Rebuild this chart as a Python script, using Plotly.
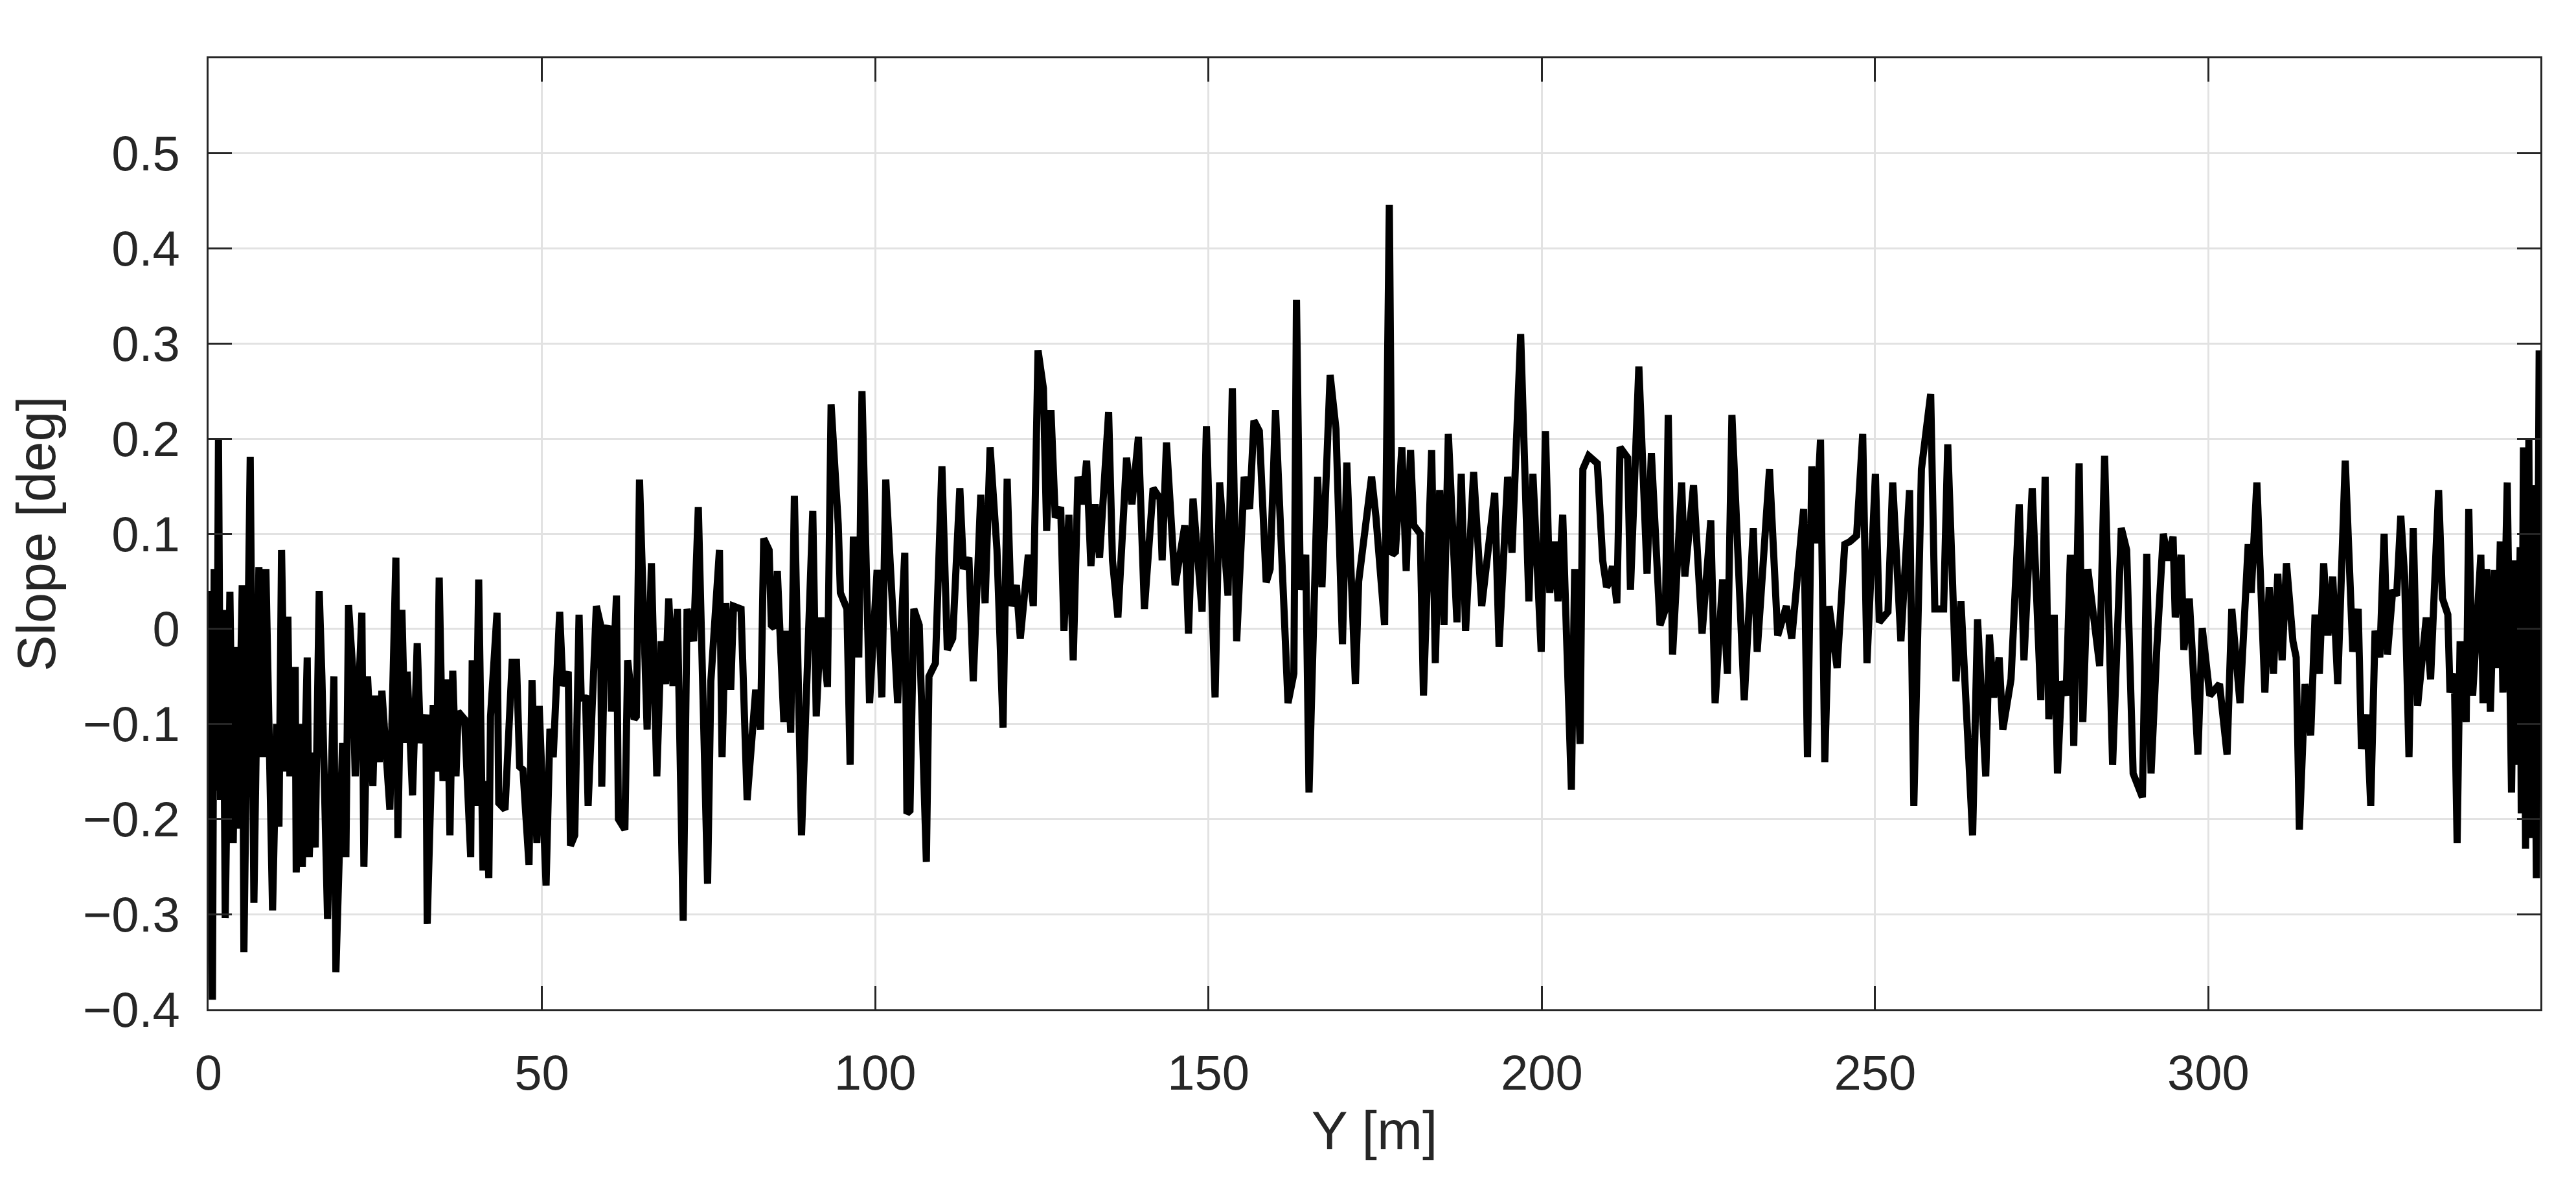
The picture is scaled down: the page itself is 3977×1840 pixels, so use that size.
import plotly.graph_objects as go

y_pos = [
    0.0, 0.13, 0.58, 0.84, 1.2, 1.49, 1.8, 2.2, 2.5, 3.2, 3.7, 4.1, 4.4, 5.05, 5.3,
    6.25, 6.8, 7.55, 8.1, 8.6, 9.6, 10.2, 10.56, 10.95, 11.5, 11.9, 12.2, 13.0, 13.15,
    13.86, 14.06, 14.8, 15.1, 15.7, 16.0, 16.6, 17.0, 17.85, 18.8, 19.1, 20.1, 20.6,
    21.0, 21.6, 22.0, 23.0, 23.3, 23.85, 24.65, 25.0, 25.6, 26.0, 27.2, 28.1, 28.4,
    29.0, 29.5, 29.8, 30.6, 31.3, 31.8, 32.6, 32.8, 33.7, 34.2, 34.6,
    35.17, 35.82, 36.21, 36.63, 37.12, 37.44, 38.41, 39.32, 39.55, 40.03, 40.52,
    41.17, 41.6, 42.04, 42.3, 43.27, 43.53, 44.47, 45.54, 46.19, 46.67, 47.16,
    48.07, 48.52, 49.25, 49.6, 50.63, 51.21, 51.7, 52.67, 53.15, 53.96, 54.29,
    54.93, 55.58, 55.91, 56.55, 56.94, 58.17, 58.82, 58.98, 59.47, 60.28, 60.44,
    61.19, 61.48, 62.45, 62.87, 63.84, 64.17, 64.65, 65.79, 66.43, 67.24, 67.89,
    68.54, 69.03, 69.67,
    70.33, 71.2, 71.78, 72.76, 73.47, 74.86, 75.35, 76.64, 77.03, 77.61, 78.33,
    78.75, 79.88, 80.79, 82.08, 82.8, 83.28, 84.09, 84.42, 84.9, 85.32, 86.3,
    86.68, 87.33, 87.88, 88.95, 90.64, 91.16, 91.87, 92.84, 93.39, 94.46, 94.78,
    95.76, 96.24, 96.73, 97.54, 98.02, 99.16, 100.29, 101.0, 101.59, 103.37,
    104.44, 104.76,
    105.22, 105.8, 106.61, 107.68, 108.07, 109.04, 110.01, 110.82, 111.63, 112.7,
    113.25, 114.06, 114.71, 115.84, 116.49, 117.24, 118.27, 119.18, 119.8, 120.38,
    121.19, 121.77, 122.97, 123.72, 124.43, 125.24, 125.72, 126.37, 127.02, 127.83,
    128.32, 129.06, 129.71, 130.42, 131.07, 131.72, 132.36, 133.01, 133.66, 135.02,
    135.6, 136.41, 137.71, 138.52, 139.49,
    140.39, 141.69, 142.73, 143.05, 143.7, 144.99, 146.45, 147.0, 147.68, 149.04,
    149.69, 150.99, 151.67, 152.93, 153.58, 154.23, 155.36, 156.17, 156.82, 157.63,
    158.66, 159.25, 160.06, 161.03, 161.35, 161.93, 162.81, 163.2, 163.78, 164.59,
    165.08, 166.37, 167.02, 168.25, 169.13, 170.1, 170.75, 172.04, 172.53, 174.47,
    175.12, 176.42, 177.13, 177.55, 178.04, 179.01, 179.66, 180.31, 180.79, 181.76,
    182.25, 183.48, 184.03, 184.68, 185.33, 185.98, 187.27, 187.92, 188.57, 189.77,
    190.99, 192.94, 193.59, 194.88, 195.53, 196.83, 198.06, 198.67, 199.91, 200.55,
    201.2, 201.95, 202.43, 203.14, 204.44, 204.93, 205.74, 206.16, 207.03, 208.33,
    209.14, 209.72,
    210.12, 210.61, 211.26, 211.74, 212.88, 213.3, 214.56, 215.79, 216.44, 217.74,
    218.55, 218.97, 219.62, 220.98, 221.46, 222.76, 224.05, 225.35, 226.0, 227.13,
    227.84, 228.52, 230.37, 231.73, 232.31, 234.16, 235.39, 236.69, 237.5, 239.28,
    239.86, 240.51, 241.06, 241.81, 242.45, 243.1, 244.3,
    245.45, 246.26, 247.23, 248.14, 248.78, 250.05, 250.63, 251.93, 252.64, 253.87,
    255.17, 255.81, 256.95, 258.34, 258.96, 260.28, 260.9, 262.13, 262.88, 264.63,
    265.37, 266.6, 267.15, 267.8, 268.61, 269.16, 270.39, 271.62, 272.33, 273.57,
    274.86, 275.51, 276.06, 276.87, 277.36, 278.0, 278.65, 279.3, 279.8,
    280.61, 281.16, 281.91, 283.69, 284.43, 285.63, 286.93, 287.74, 288.71, 290.1,
    290.75, 291.4, 292.27, 293.24, 293.89, 294.7, 295.03, 295.9, 296.32, 297.13,
    298.43, 299.07, 300.21, 301.67, 302.8, 303.51, 304.74, 305.97, 306.43, 307.27,
    308.47, 309.12, 309.76, 310.41, 311.06, 311.71, 312.68, 313.17, 313.65, 314.5,
    315.35, 316.0, 316.64, 317.29, 317.94, 318.65, 319.4, 320.53, 321.66, 322.47,
    322.96, 323.77, 324.35, 325.0, 325.71, 326.36, 326.85, 327.66, 328.24, 328.86,
    329.44, 330.09, 330.73, 331.38, 332.68, 333.33, 334.53, 335.11, 335.92, 336.24,
    336.89, 337.31, 337.76, 338.67, 339.06, 339.64, 340.87, 341.2, 341.75, 342.3,
    342.88, 343.37, 343.79, 344.18, 344.83, 345.47, 345.96, 346.28, 346.77, 346.93,
    347.26, 347.58, 348.07, 348.39, 348.78, 349.2, 349.62, 349.72, 349.8,
]

slope_deg = [
    -0.24, 0.04, -0.39, 0.063, -0.17, 0.2, -0.18, 0.02, -0.304, 0.039, -0.225, -0.019, -0.21, 0.046, -0.34,
    0.181, -0.288, 0.065, -0.135, 0.063, -0.296, -0.1, -0.208, 0.083, -0.15, 0.013, -0.155, -0.04, -0.256,
    -0.1, -0.25, -0.03, -0.24, -0.13, -0.23, 0.04, -0.05, -0.305, -0.05, -0.361, -0.12, -0.24,
    0.025, -0.04, -0.155, 0.017, -0.25, -0.05, -0.165, -0.07, -0.14, -0.065, -0.19, 0.075, -0.22,
    0.02, -0.12, -0.045, -0.175, -0.015, -0.12, -0.09, -0.31, -0.08, -0.15, 0.054,
    -0.16, -0.053, -0.217, -0.044, -0.155, -0.087, -0.095, -0.24, -0.033, -0.186, 0.052,
    -0.254, -0.16, -0.262, -0.092, 0.017, -0.183, -0.19, -0.035, -0.035, -0.145, -0.148,
    -0.248, -0.054, -0.225, -0.081, -0.27, -0.105, -0.135, 0.018, -0.06, -0.045, -0.228,
    -0.217, 0.015, -0.075, -0.07, -0.186, 0.024, 0.004, -0.166, 0.001, 0.0, -0.087,
    0.035, -0.2, -0.211, -0.033, -0.095, -0.092, 0.157, -0.106, 0.069, -0.155, -0.013,
    -0.058, 0.032, -0.06,
    0.021, -0.307, 0.021, -0.013, 0.128, -0.268, -0.055, 0.083, -0.135, 0.027, -0.064,
    0.024, 0.021, -0.18, -0.064, -0.106, 0.095, 0.083, 0.004, 0.001, 0.061, -0.098,
    -0.002, -0.109, 0.14, -0.217, 0.124, -0.092, 0.012, -0.061, 0.236, 0.11, 0.038,
    0.021, -0.143, 0.097, -0.03, 0.25, -0.078, 0.062, -0.072, 0.157, -0.078,
    0.08, -0.194,
    -0.191, 0.021, 0.004, -0.245, -0.05, -0.036, 0.171, -0.022, -0.01, 0.148,
    0.063, 0.075, -0.055, 0.141, 0.027, 0.191, 0.083, -0.104, 0.158, 0.024,
    0.046, -0.01, 0.078, 0.024, 0.293, 0.253, 0.103, 0.23, 0.117, 0.128,
    -0.002, 0.12, -0.033, 0.16, 0.131, 0.177, 0.066, 0.131, 0.075, 0.228,
    0.072, 0.012, 0.18, 0.131, 0.202,
    0.021, 0.148, 0.137, 0.072, 0.196, 0.046, 0.109, -0.005, 0.137, 0.018,
    0.213, -0.072, 0.154, 0.035, 0.253, -0.013, 0.16, 0.126, 0.219, 0.208,
    0.049, 0.063, 0.23, 0.072, 0.038, -0.078, -0.047, 0.346, 0.041, 0.078,
    -0.172, 0.16, 0.044, 0.267, 0.21, -0.016, 0.175, -0.058, 0.05, 0.16,
    0.118, 0.004, 0.446, 0.078, 0.081, 0.191, 0.061, 0.188, 0.109, 0.1,
    -0.07, 0.188, -0.036, 0.146, 0.004, 0.205, 0.007, 0.163, -0.002, 0.165,
    0.024, 0.143, -0.019, 0.16, 0.08, 0.31, 0.029, 0.163, -0.024, 0.208,
    0.038, 0.092, 0.029, 0.12, -0.169, 0.063, -0.121, 0.168, 0.182, 0.174,
    0.072, 0.044,
    0.049, 0.066, 0.027, 0.191, 0.18, 0.041, 0.276, 0.058, 0.185, 0.004,
    0.021, 0.225, -0.027, 0.154, 0.055, 0.151, -0.005, 0.114, -0.078, 0.052,
    -0.047, 0.225, -0.075, 0.106, -0.024, 0.168, -0.007, 0.024, -0.01, 0.126,
    -0.135, 0.171, 0.09, 0.199, -0.14, 0.024, -0.041,
    0.089, 0.092, 0.098, 0.205, -0.036, 0.163, 0.007, 0.018, 0.154, -0.013,
    0.146, -0.186, 0.168, 0.247, 0.021, 0.021, 0.194, -0.055, 0.029, -0.217,
    0.01, -0.155, -0.006, -0.072, -0.03, -0.106, -0.053, 0.131, -0.033, 0.148,
    -0.075, 0.16, -0.095, 0.015, -0.152, -0.055, -0.07, 0.078, -0.123,
    0.174, -0.098, 0.063, -0.039, 0.182, -0.143, 0.106, 0.083, -0.152, -0.177,
    0.079, -0.152, -0.019, 0.1, 0.072, 0.097, 0.012, 0.078, -0.022, 0.032,
    -0.132, 0.001, -0.07, -0.058, -0.132, 0.021, -0.078, 0.089, 0.038, 0.154,
    -0.067, 0.044, -0.047, 0.058, -0.033, 0.069, -0.013, -0.03, -0.211, -0.058,
    -0.112, 0.015, -0.047, 0.069, -0.007, 0.055, -0.058, 0.177, -0.024, 0.021,
    -0.126, -0.09, -0.186, -0.002, -0.03, 0.1, -0.027, 0.041, 0.035, 0.119,
    0.055, -0.135, 0.106, -0.081, 0.012, -0.053, 0.146, 0.032, 0.015, -0.067,
    -0.047, -0.225, -0.013, -0.098, 0.126, -0.07, 0.078, -0.078, 0.063, -0.087,
    0.062, -0.041, 0.092, -0.067, 0.154, -0.172, 0.072, -0.143, 0.086, -0.194,
    0.191, -0.231, 0.199, -0.22, 0.151, -0.262, 0.293, -0.123, 0.131,
]

x_ticks = [0, 50, 100, 150, 200, 250, 300]
y_ticks = [-0.4, -0.3, -0.2, -0.1, 0, 0.1, 0.2, 0.3, 0.4, 0.5]
y_tick_text = ["\u22120.4", "\u22120.3", "\u22120.2", "\u22120.1", "0",
               "0.1", "0.2", "0.3", "0.4", "0.5"]

ink = "#262626"
grid = "#e2e2e2"
font_family = "Liberation Sans, Helvetica, Arial, sans-serif"

fig = go.Figure()
fig.add_trace(go.Scatter(
    x=y_pos,
    y=slope_deg,
    mode="lines",
    line=dict(color="black", width=11),
    showlegend=False,
))

axis_common = dict(
    showline=True, linecolor=ink, linewidth=3, mirror="ticks",
    ticks="inside", ticklen=36, tickwidth=3, tickcolor=ink,
    showgrid=True, gridcolor=grid, gridwidth=3, zeroline=False,
    tickfont=dict(family=font_family, size=76, color=ink),
)

fig.update_xaxes(
    range=[0, 349.8], tickvals=x_ticks, ticklabelstandoff=30,
    title=dict(text="Y [m]", font=dict(family=font_family, size=84, color=ink), standoff=18),
    **axis_common,
)
fig.update_yaxes(
    range=[-0.4, 0.6], tickvals=y_ticks, ticktext=y_tick_text, ticklabelstandoff=26,
    title=dict(text="Slope [deg]", font=dict(family=font_family, size=84, color=ink), standoff=15),
    **axis_common,
)

fig.update_layout(
    width=3977, height=1840,
    margin=dict(l=314, r=63, t=82, b=290),
    paper_bgcolor="white", plot_bgcolor="white",
    font=dict(family=font_family, color=ink),
)

fig.write_html("out.html")
